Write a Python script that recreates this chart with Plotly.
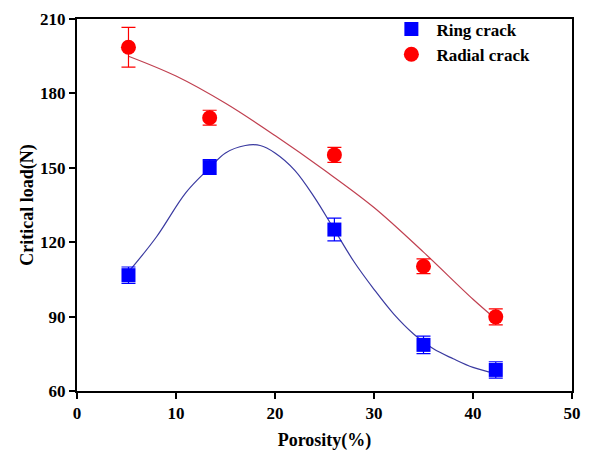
import plotly.graph_objects as go

# Measured data points
porosity = [5.2, 13.4, 26.0, 35.0, 42.3]
ring_load = [106.7, 150.3, 125.1, 78.6, 68.5]
ring_err = [3.3, 3.0, 4.6, 3.5, 3.3]
radial_load = [198.6, 170.2, 155.2, 110.3, 89.9]
radial_err = [8.0, 3.0, 3.0, 3.0, 3.2]

# Fitted curves
ring_fit_x = [5.2, 8, 11, 13.4, 15, 17, 18.5, 20, 22, 24, 26, 28, 30, 32, 34, 36, 38, 40, 42.3]
ring_fit_y = [108, 122, 140, 150, 156, 159, 159, 156, 149, 138, 125, 112, 101, 91, 83, 77, 73, 69.5, 67]
radial_fit_x = [5.2, 10, 15, 20, 25, 30, 35, 40, 42.3]
radial_fit_y = [195, 187, 176, 163, 149, 134, 116, 97, 89]

FONT = "Liberation Serif, Times New Roman, serif"

fig = go.Figure()
fig.add_trace(go.Scatter(x=ring_fit_x, y=ring_fit_y, mode="lines", line=dict(color="#3a3aa0", width=1.2, shape="spline"),
                         showlegend=False, hoverinfo="skip"))
fig.add_trace(go.Scatter(x=radial_fit_x, y=radial_fit_y, mode="lines", line=dict(color="#c04050", width=1.2, shape="spline"),
                         showlegend=False, hoverinfo="skip"))
fig.add_trace(go.Scatter(x=porosity, y=ring_load, mode="markers", name="Ring crack",
                         marker=dict(symbol="square", size=14, color="#0000ff"),
                         error_y=dict(type="data", array=ring_err, color="#0000ff", thickness=1.2, width=7)))
fig.add_trace(go.Scatter(x=porosity, y=radial_load, mode="markers", name="Radial crack",
                         marker=dict(symbol="circle", size=15, color="#ff0000"),
                         error_y=dict(type="data", array=radial_err, color="#ff0000", thickness=1.2, width=7)))

axis_common = dict(showline=True, linecolor="black", linewidth=2, mirror=True, ticks="outside", ticklen=6,
                   tickwidth=2, tickcolor="black", showgrid=False, zeroline=False, automargin=False,
                   tickfont=dict(family=FONT, size=17, color="black", weight="bold"))
fig.update_xaxes(range=[0, 50], tickvals=[0, 10, 20, 30, 40, 50],
                 title=dict(text="Porosity(%)", font=dict(family=FONT, size=18, color="black", weight="bold"), standoff=11),
                 **axis_common)
fig.update_yaxes(range=[60, 210], tickvals=[60, 90, 120, 150, 180, 210],
                 title=dict(text="Critical load(N)", font=dict(family=FONT, size=18, color="black", weight="bold"), standoff=2),
                 **axis_common)
fig.update_layout(width=598, height=458, margin=dict(l=77, r=26, t=13, b=67),
                  plot_bgcolor="white", paper_bgcolor="white",
                  legend=dict(x=0.625, y=1.02, xanchor="left", yanchor="top", bgcolor="rgba(0,0,0,0)", itemwidth=40,
                              font=dict(family=FONT, size=17, color="black", weight="bold"), tracegroupgap=0))
fig.write_html("out.html")
